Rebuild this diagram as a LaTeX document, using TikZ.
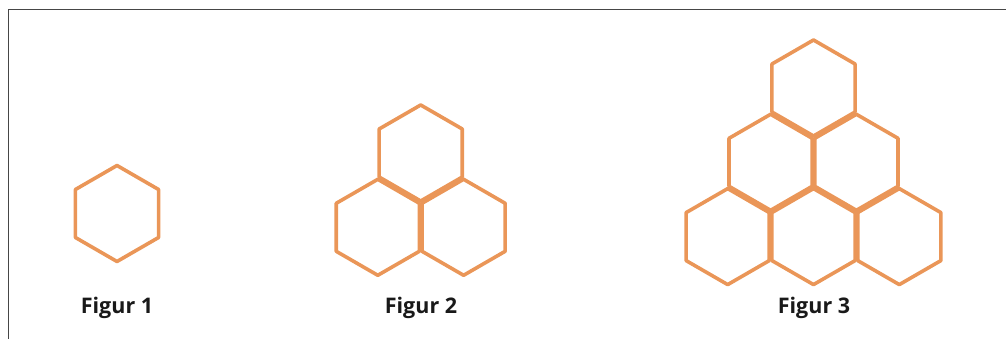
\documentclass[tikz,border=0pt]{standalone}
\usepackage{fontspec}
\setmainfont{Open Sans}
\definecolor{hexorange}{RGB}{234,150,88}
\definecolor{framegray}{RGB}{70,70,70}
\tikzset{
  hexline/.style={draw=hexorange, line width=3.6pt, line join=round},
  framestyle/.style={draw=framegray, line width=1.2pt},
  figlabel/.style={anchor=base, font=\fontsize{21.5}{25}\selectfont\bfseries, text=black!90},
  hexcell/.pic={\draw[hexline] (90:48) -- (30:48) -- (-30:48) -- (-90:48) -- (-150:48) -- (150:48) -- cycle;}
}
\begin{document}
\begin{tikzpicture}[x=1pt,y=-1pt]
\useasboundingbox (0,0) rectangle (1006,339);
% frame (top and left)
\draw[framestyle] (8.5,339) -- (8.5,9.5) -- (1006,9.5);
% Figur 1
\pic (h1) at (117,213.5) {hexcell};
% Figur 2
\pic (h2a) at (420.7,153) {hexcell};
\pic (h2b) at (377.8,227.3) {hexcell};
\pic (h2c) at (463.6,227.3) {hexcell};
% Figur 3
\pic (h3a) at (813.5,88) {hexcell};
\pic (h3b) at (770.6,162.3) {hexcell};
\pic (h3c) at (856.4,162.3) {hexcell};
\pic (h3d) at (727.7,236.6) {hexcell};
\pic (h3e) at (813.5,236.6) {hexcell};
\pic (h3f) at (899.3,236.6) {hexcell};
% labels
\node[figlabel] (l1) at (117,313) {Figur 1};
\node[figlabel] (l2) at (421,313) {Figur 2};
\node[figlabel] (l3) at (814,313) {Figur 3};
\end{tikzpicture}
\end{document}
